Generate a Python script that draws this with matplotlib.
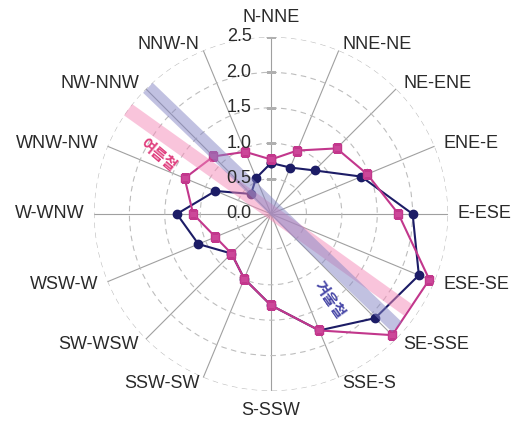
import numpy as np
import matplotlib
matplotlib.use("Agg")
import matplotlib.pyplot as plt

plt.rcParams['font.family'] = ['Liberation Sans', 'Noto Sans CJK KR', 'DejaVu Sans']

# 16 sector labels, clockwise from north
sectors = ["N-NNE", "NNE-NE", "NE-ENE", "ENE-E", "E-ESE", "ESE-SE", "SE-SSE", "SSE-S",
           "S-SSW", "SSW-SW", "SW-WSW", "WSW-W", "W-WNW", "WNW-NW", "NW-NNW", "NNW-N"]

winter = [0.72, 0.71, 0.87, 1.38, 2.00, 2.26, 2.08, 1.78,
          1.29, 0.99, 0.79, 1.11, 1.33, 0.85, 0.40, 0.55]
summer = [0.77, 0.97, 1.31, 1.47, 1.80, 2.42, 2.42, 1.78,
          1.29, 0.99, 0.79, 0.85, 1.10, 1.32, 1.15, 0.95]

r_ticks = [0.0, 0.5, 1.0, 1.5, 2.0, 2.5]
r_tick_labels = ["0.0", "0.5", "1.0", "1.5", "2.0", "2.5"]

# principal axes (bearing in degrees, radius) for each season
winter_axis = [(315.7, 2.49), (131.9, 2.39)]
summer_axis = [(306.1, 2.52), (125.0, 2.36)]

navy = "#1c1c66"
magenta = "#c2378c"

fig = plt.figure(figsize=(5.23, 4.25), dpi=100)
ax = fig.add_axes([0.1797, 0.08, 0.677, 0.833], projection="polar")
ax.set_theta_zero_location("N")
ax.set_theta_direction(-1)
ax.set_ylim(0, 2.5)

theta = np.deg2rad(np.arange(16) * 22.5)

# grid: solid spokes, dashed rings
ax.set_xticks(theta)
ax.set_xticklabels([])
ax.set_yticks(r_ticks)
ax.set_yticklabels([])
ax.xaxis.grid(True, color="#a0a0a0", lw=0.8, ls="-")
ax.yaxis.grid(True, color="#bdbdbd", lw=0.8, ls=(0, (5, 4)))
ax.spines["polar"].set_visible(False)
ax.tick_params(length=0)

# small tick marks along the north spoke
ax.plot(np.zeros(len(r_ticks) - 1), r_ticks[1:], ls="", marker="_", ms=7,
        color="#b0b0b0", mew=0.8, zorder=2)

# radial tick labels left of the north spoke
for r, lab in zip(r_ticks, r_tick_labels):
    ax.annotate(lab, xy=(0, r), xytext=(-14, 0), textcoords="offset points",
                ha="right", va="center", fontsize=13, color="#2a2a2a", zorder=6)

# sector labels
for t, lab in zip(theta, sectors):
    s, c = np.sin(t), np.cos(t)
    if abs(s) < 0.1:
        ha = "center"
        va = "bottom" if c > 0 else "top"
        off = (0, 8 * c)
    else:
        ha = "left" if s > 0 else "right"
        va = "center"
        off = (7 * s, 5 * c)
    ax.annotate(lab, xy=(t, 2.5), xytext=off, textcoords="offset points",
                ha=ha, va=va, fontsize=13, color="#2a2a2a", annotation_clip=False)

# seasonal series
tc = np.append(theta, theta[0])
ax.plot(tc, np.append(winter, winter[0]), color=navy, lw=1.5, marker="o", ms=6,
        mfc=navy, mec=navy, zorder=3)
ax.plot(tc, np.append(summer, summer[0]), color=magenta, lw=1.5, marker="s", ms=6,
        mfc="#cc4799", mec=magenta, zorder=4)

# principal axis bands
for axis, col in ((summer_axis, "#f58ab8"), (winter_axis, "#8585c4")):
    ax.plot([np.deg2rad(axis[0][0]), np.deg2rad(axis[1][0])],
            [axis[0][1], axis[1][1]], color=col, lw=10, alpha=0.5,
            solid_capstyle="butt", zorder=5)

ax.text(np.deg2rad(297.6), 1.8, "여름철", rotation=-40, ha="center", va="center",
        fontsize=11, fontweight="bold", color="#e0407f", family="Noto Sans CJK KR",
        zorder=6)
ax.text(np.deg2rad(145.5), 1.47, "겨울철", rotation=-55, ha="center", va="center",
        fontsize=11, fontweight="bold", color="#4848a8", family="Noto Sans CJK KR",
        zorder=6)

fig.savefig("out.png", dpi=100)
